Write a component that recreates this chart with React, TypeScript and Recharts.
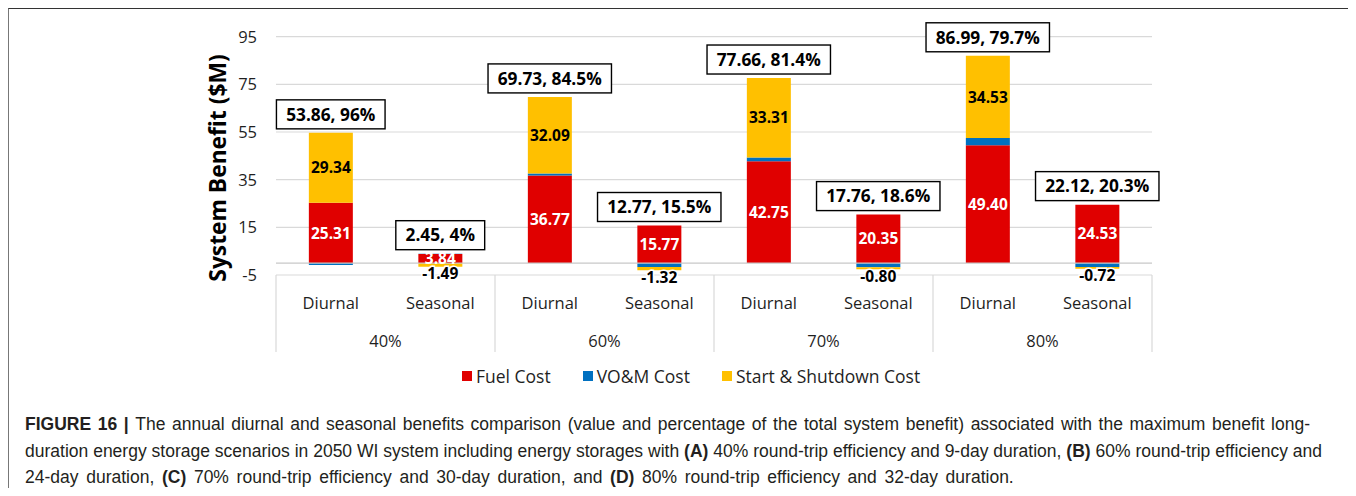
import React, { useLayoutEffect, useRef, useState } from 'react';
import {
  BarChart,
  Bar,
  XAxis,
  YAxis,
  CartesianGrid,
  ReferenceLine,
  ReferenceDot,
  LabelList,
} from 'recharts';

// ---------- data ----------
const efficiencies = ['40%', '60%', '70%', '80%'];
const storageTypes = ['Diurnal', 'Seasonal'];
const fuelCost = [25.31, 3.84, 36.77, 15.77, 42.75, 20.35, 49.4, 24.53];
const vomCost = [-0.79, 0.1, 0.87, -1.68, 1.6, -1.79, 3.06, -1.69];
const startShutdownCost = [29.34, -1.49, 32.09, -1.32, 33.31, -0.8, 34.53, -0.72];
const totalBenefit = [53.86, 2.45, 69.73, 12.77, 77.66, 17.76, 86.99, 22.12];
const benefitShare = ['96%', '4%', '84.5%', '15.5%', '81.4%', '18.6%', '79.7%', '20.3%'];
const yTicks = [-5, 15, 35, 55, 75, 95];
const seriesNames = ['Fuel Cost', 'VO&M Cost', 'Start & Shutdown Cost'];

const categories = efficiencies.flatMap((e) => storageTypes.map((t) => `${e}|${t}`));

const chartData = categories.map((key, i) => ({
  key,
  fuel: fuelCost[i],
  vom: vomCost[i],
  start: startShutdownCost[i],
}));

const stackTop = (i: number) =>
  [fuelCost[i], vomCost[i], startShutdownCost[i]].filter((v) => v > 0).reduce((a, b) => a + b, 0);

// ---------- styles ----------
const FONT = '"Open Sans", "Noto Sans", sans-serif';
const COLORS = ['#E00000', '#0070C0', '#FFC000'];
const GRID = '#D9D9D9';
const TEXT = '#1f1f1f';

// ---------- custom pieces ----------
const TotalBox = (props: any) => {
  const { cx, cy, text } = props;
  const ref = useRef<SVGTextElement>(null);
  const [tw, setTw] = useState(text.length * 8.4);
  useLayoutEffect(() => {
    if (ref.current) {
      const w = ref.current.getBBox().width;
      if (Math.abs(w - tw) > 0.5) setTw(w);
    }
  });
  if (cx == null || cy == null) return null;
  const w = tw + 19;
  const h = 29;
  const bottom = cy - 4;
  return (
    <g>
      <rect x={cx - w / 2} y={bottom - h} width={w} height={h} fill="#fff" stroke="#000" strokeWidth={1.4} />
      <text
        ref={ref}
        x={cx}
        y={bottom - h / 2}
        dy="0.36em"
        textAnchor="middle"
        fontFamily={FONT}
        fontWeight={700}
        fontSize={17.3}
        fill="#000"
      >
        {text}
      </text>
    </g>
  );
};

const FuelLabel = (props: any) => {
  const vb = props.viewBox || props;
  const { x, y, width, height } = vb;
  const i = props.index;
  if (x == null) return null;
  return (
    <text
      x={x + width / 2}
      y={y + height / 2}
      dy="0.36em"
      textAnchor="middle"
      fontFamily={FONT}
      fontWeight={700}
      fontSize={15.5}
      fill="#fff"
    >
      {fuelCost[i].toFixed(2)}
    </text>
  );
};

const StartLabel = (props: any) => {
  const vb = props.viewBox || props;
  const { x, y, width, height } = vb;
  const i = props.index;
  if (x == null) return null;
  const v = startShutdownCost[i];
  if (v >= 0) {
    return (
      <text
        x={x + width / 2}
        y={y + height / 2}
        dy="0.36em"
        textAnchor="middle"
        fontFamily={FONT}
        fontWeight={700}
        fontSize={15.5}
        fill="#000"
      >
        {v.toFixed(2)}
      </text>
    );
  }
  const bottom = Math.max(y, y + height);
  return (
    <text
      x={x + width / 2}
      y={bottom + 7}
      dy="0.36em"
      textAnchor="middle"
      fontFamily={FONT}
      fontWeight={700}
      fontSize={15.5}
      fill="#000"
      stroke="#fff"
      strokeWidth={3}
      paintOrder="stroke"
    >
      {v.toFixed(2)}
    </text>
  );
};

const SubTick = (props: any) => {
  const { x, y, payload } = props;
  return (
    <text x={x} y={y + 33.5} textAnchor="middle" fontFamily={FONT} fontSize={16.5} fill={TEXT}>
      {String(payload.value).split('|')[1]}
    </text>
  );
};

const GroupTick = (props: any) => {
  const { x, y, payload, index } = props;
  const half = payload && payload.offset ? payload.offset : 54.75;
  const [group, type] = String(payload.value).split('|');
  const isFirst = type === storageTypes[0];
  const isLast = index === categories.length - 1;
  return (
    <g>
      {isFirst && <line x1={x - half} x2={x - half} y1={y - 37} y2={y + 40} stroke={GRID} strokeWidth={1.2} />}
      {isLast && <line x1={x + half} x2={x + half} y1={y - 37} y2={y + 40} stroke={GRID} strokeWidth={1.2} />}
      {!isFirst && (
        <text x={x - half} y={y + 35} textAnchor="middle" fontFamily={FONT} fontSize={16.5} fill={TEXT}>
          {group}
        </text>
      )}
    </g>
  );
};

const YLabel = () => {
  const cy = 159;
  const cx = 209;
  return (
    <text
      x={cx}
      y={cy}
      transform={`rotate(-90, ${cx}, ${cy})`}
      textAnchor="middle"
      dy="0.36em"
      fontFamily={FONT}
      fontWeight={700}
      fontSize={22.8}
      fill="#000"
    >
      System Benefit ($M)
    </text>
  );
};

const captionLines = [
  [
    { b: true, t: 'FIGURE 16 | ' },
    {
      b: false,
      t: 'The annual diurnal and seasonal benefits comparison (value and percentage of the total system benefit) associated with the maximum benefit long-',
    },
  ],
  [
    {
      b: false,
      t: 'duration energy storage scenarios in 2050 WI system including energy storages with ',
    },
    { b: true, t: '(A)' },
    { b: false, t: ' 40% round-trip efficiency and 9-day duration, ' },
    { b: true, t: '(B)' },
    { b: false, t: ' 60% round-trip efficiency and' },
  ],
  [
    { b: false, t: '24-day duration, ' },
    { b: true, t: '(C)' },
    { b: false, t: ' 70% round-trip efficiency and 30-day duration, and ' },
    { b: true, t: '(D)' },
    { b: false, t: ' 80% round-trip efficiency and 32-day duration.' },
  ],
];
const captionLineStyles: React.CSSProperties[] = [
  { width: 1285, textAlign: 'justify', textAlignLast: 'justify' },
  { width: 1297, textAlign: 'justify', textAlignLast: 'justify' },
  { wordSpacing: 2.8 },
];

export default function App() {
  return (
    <div
      style={{
        position: 'relative',
        width: 1345,
        height: 480,
        boxSizing: 'border-box',
        borderTop: '1px solid #333',
        borderLeft: '1px solid #777',
        borderRight: '1px solid #777',
        fontFamily: FONT,
        background: '#fff',
      }}
    >
      <div style={{ position: 'absolute', left: 0, top: 0 }}>
        <BarChart
          width={1343}
          height={343}
          data={chartData}
          margin={{ top: 27.7, right: 200, left: 0, bottom: 0 }}
          stackOffset="sign"
          barCategoryGap="30%"
        >
          <CartesianGrid vertical={false} stroke={GRID} strokeWidth={1.2} />
          <XAxis
            dataKey="key"
            interval={0}
            axisLine={false}
            tickLine={false}
            tickSize={0}
            tickMargin={0}
            height={37}
            tick={<SubTick />}
          />
          <XAxis
            xAxisId="group"
            dataKey="key"
            interval={0}
            axisLine={false}
            tickLine={false}
            tickSize={0}
            tickMargin={0}
            height={40}
            tick={<GroupTick />}
          />
          <YAxis
            domain={[-5, 95]}
            ticks={yTicks}
            interval={0}
            axisLine={false}
            tickLine={false}
            tickSize={0}
            tickMargin={19}
            width={267}
            tick={{ fontFamily: FONT, fontSize: 16.5, fill: TEXT }}
            label={<YLabel />}
          />
          <ReferenceLine y={0} stroke="#C8C8C8" strokeWidth={1.2} />
          <Bar dataKey="fuel" name={seriesNames[0]} stackId="a" fill={COLORS[0]} isAnimationActive={false}>
            <LabelList dataKey="fuel" content={<FuelLabel />} />
          </Bar>
          <Bar dataKey="vom" name={seriesNames[1]} stackId="a" fill={COLORS[1]} isAnimationActive={false} />
          <Bar dataKey="start" name={seriesNames[2]} stackId="a" fill={COLORS[2]} isAnimationActive={false}>
            <LabelList dataKey="start" content={<StartLabel />} />
          </Bar>
          {categories.map((c, i) => (
            <ReferenceDot
              key={c}
              x={c}
              y={stackTop(i)}
              ifOverflow="visible"
              shape={(p: any) => (
                <TotalBox cx={p.cx} cy={p.cy} text={`${totalBenefit[i].toFixed(2)}, ${benefitShare[i]}`} />
              )}
            />
          ))}
        </BarChart>
      </div>

      {/* legend */}
      <div
        style={{
          position: 'absolute',
          left: 453,
          top: 355,
          height: 24,
          display: 'flex',
          alignItems: 'center',
          gap: 32,
          fontSize: 17.5,
          color: TEXT,
          whiteSpace: 'nowrap',
        }}
      >
        {seriesNames.map((n, i) => (
          <div key={n} style={{ display: 'flex', alignItems: 'center', gap: 4 }}>
            <span style={{ display: 'inline-block', width: 10, height: 10, background: COLORS[i] }} />
            <span>{n}</span>
          </div>
        ))}
      </div>

      {/* caption */}
      <div
        style={{
          position: 'absolute',
          left: 16,
          top: 402,
          fontFamily: '"Liberation Sans", Arial, sans-serif',
          fontSize: 17.5,
          lineHeight: '26.5px',
          color: '#231f20',
          whiteSpace: 'nowrap',
        }}
      >
        {captionLines.map((line, li) => (
          <div key={li} style={captionLineStyles[li]}>
            {line.map((seg, si) =>
              seg.b ? (
                <b key={si}>{seg.t}</b>
              ) : (
                <span key={si}>{seg.t}</span>
              )
            )}
          </div>
        ))}
      </div>
    </div>
  );
}
